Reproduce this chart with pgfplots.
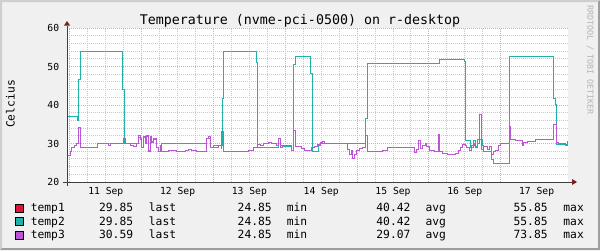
\documentclass[border=0pt]{standalone}
\usepackage{pgfplots}
\usepackage{pgfplotstable}
\pgfplotsset{compat=1.18}
\usepackage{fontspec}
\setmainfont{DejaVu Sans Mono}
\definecolor{bgc}{HTML}{F0F0F0}
\definecolor{shadea}{HTML}{CFCFCF}
\definecolor{shadeb}{HTML}{9E9E9E}
\definecolor{gridc}{HTML}{C8C8C8}
\definecolor{mgridc}{HTML}{F2A0A0}
\definecolor{axisc}{HTML}{404040}
\definecolor{arrowc}{HTML}{7F1F1F}
\definecolor{wmc}{HTML}{B4B4B4}
\definecolor{tempa}{HTML}{DC143C}
\definecolor{tempb}{HTML}{20B2AA}
\definecolor{tempc}{HTML}{BA55D3}

% x = days since 11 Sep 00:00, y = degrees Celsius
\pgfplotstableread{
x y
-0.0404 36.9
0.1031 35.9
0.1198 46.75
0.1476 53.85
0.7354 44.0
0.7535 30.0
0.9527 31.5
0.9764 31.0
1.0000 29.0
1.0223 31.5
1.0460 30.0
1.0697 31.8
1.0919 27.9
1.1156 31.5
1.1393 30.5
1.1616 31.0
1.2089 29.0
1.2312 27.9
1.2689 30.0
1.9054 31.3
1.9513 29.0
1.9973 29.4
2.1226 41.6
2.1365 53.85
2.5962 51.1
2.6100 29.0
2.8984 31.3
2.9360 29.5
2.9541 29.2
3.0836 28.3
3.1170 50.5
3.1449 52.7
3.3482 48.3
3.3760 27.9
3.4596 29.4
3.4875 30.0
4.1142 36.5
4.1379 50.9
5.1448 51.85
5.4930 51.3
5.5097 30.9
5.5822 29.0
5.6184 30.9
5.6421 29.2
5.6699 31.1
5.7396 29.4
5.7632 27.9
5.8649 25.9
5.8928 24.85
6.1253 52.7
6.7382 41.8
6.7604 40.1
6.7702 36.2
6.7799 29.85
6.9373 29.85
}\tabtwo

\pgfplotstableread{
x y
-0.0404 27.0
0.0111 27.9
0.0251 29.0
0.0571 29.6
0.0850 30.0
0.1170 34.2
0.1504 29.0
0.3816 30.0
0.5348 29.6
0.5683 30.0
0.7438 31.3
0.7674 29.9
0.8371 29.6
0.8830 29.2
0.9304 30.0
0.9527 32.0
0.9764 31.3
1.0000 29.0
1.0223 31.7
1.0460 30.2
1.0697 32.0
1.0919 28.3
1.1156 31.7
1.1393 30.2
1.1616 31.3
1.2089 29.0
1.2312 27.9
1.2549 29.6
1.2689 27.9
1.3705 28.3
1.4875 27.9
1.6031 28.2
1.6491 28.4
1.6964 28.2
1.7661 27.9
1.9054 31.3
1.9276 31.8
1.9513 29.0
2.0669 29.4
2.1045 28.7
2.1142 33.2
2.1365 27.9
2.4805 28.3
2.5502 29.0
2.6100 29.8
2.6476 29.6
2.6894 30.0
2.7591 30.2
2.8009 30.0
2.8747 29.4
2.9081 31.3
2.9360 29.0
2.9541 29.6
2.9819 29.4
3.0376 29.6
3.0836 28.3
3.1170 33.3
3.1449 29.2
3.2228 28.7
3.2702 28.2
3.3398 28.3
3.3579 29.0
3.4039 29.2
3.4513 29.8
3.4875 30.2
3.5209 30.5
3.5432 30.0
3.8691 28.5
3.8914 27.2
3.9150 28.1
3.9387 26.1
3.9610 27.2
3.9847 28.3
4.0306 28.7
4.0780 29.0
4.1142 32.2
4.1379 27.9
4.3566 28.2
4.4262 29.0
4.7925 27.6
4.8301 28.4
4.8482 30.9
4.8760 28.7
4.9081 29.6
4.9457 30.0
4.9694 29.2
5.0014 28.1
5.0710 27.9
5.1309 32.4
5.1504 27.9
5.1866 27.5
5.2563 27.1
5.3733 27.5
5.4053 28.1
5.4331 29.0
5.4652 29.8
5.5028 29.6
5.5265 29.0
5.5585 28.2
5.5905 29.4
5.6281 30.0
5.6518 29.0
5.6741 30.0
5.6978 37.6
5.7256 28.5
5.7632 29.2
5.8092 28.5
5.8412 29.2
5.8649 27.2
5.8928 27.9
5.9248 28.3
5.9666 29.4
5.9944 30.0
6.1198 34.4
6.1393 31.0
6.2033 30.7
6.2270 30.9
6.2967 29.6
6.3204 30.3
6.3663 30.6
6.4819 31.1
6.7382 35.0
6.7702 30.3
6.8078 29.9
6.8955 29.4
6.9234 30.6
6.9373 30.6
}\tabthree

\begin{document}
\begin{tikzpicture}[x=1pt,y=1pt]
\useasboundingbox (0,0) rectangle (600,250);
\fill[bgc] (0,0) rectangle (600,250);
\fill[shadea] (0,0) -- (2,2) -- (2,248) -- (598,248) -- (600,250) -- (0,250) -- cycle;
\fill[shadeb] (0,0) -- (600,0) -- (600,250) -- (598,248) -- (598,2) -- (2,2) -- cycle;

\begin{axis}[
  at={(67pt,68pt)}, anchor=south west,
  width=501pt, height=154pt, scale only axis,
  xmin=-0.0404, xmax=6.9373, ymin=20, ymax=60,
  axis line style={draw=none},
  axis background/.style={fill=white},
  xtick={0,1,2,3,4,5,6}, xticklabels={},
  minor x tick num=3,
  extra x ticks={0.5,1.5,2.5,3.5,4.5,5.5,6.5},
  extra x tick labels={11 Sep,12 Sep,13 Sep,14 Sep,15 Sep,16 Sep,17 Sep},
  extra x tick style={grid=none},
  ytick={20,30,40,50,60}, minor y tick num=4,
  grid=both,
  major grid style={mgridc, line width=1pt, dash pattern=on 1pt off 1pt},
  minor grid style={gridc, line width=1pt, dash pattern=on 1pt off 1pt},
  major tick length=0pt, minor tick length=0pt,
  ticklabel style={font=\fontsize{9.7}{11}\selectfont, text=black},
  /pgf/number format/assume math mode=true,
  yticklabel style={anchor=east, inner sep=0pt, xshift=-7.7pt},
  xticklabel style={anchor=base, inner sep=0pt, yshift=-12.3pt},
  every axis plot/.append style={line width=1pt, line join=miter},
]
\addplot[const plot, tempa] table[x=x,y=y] {\tabtwo};
\addplot[const plot, tempb] table[x=x,y=y] {\tabtwo};
\addplot[const plot, tempc] table[x=x,y=y] {\tabthree};
\end{axis}

% axes with rrdtool-style arrows
\draw[axisc, line width=1pt] (63,68) -- (572,68);
\fill[arrowc] (572,71) -- (577,68) -- (572,65) -- cycle;
\draw[axisc, line width=1pt] (67,64) -- (67,224.5);
\fill[arrowc] (64,224.5) -- (67,229) -- (70,224.5) -- cycle;

% title, unit, watermark
\node[anchor=base, inner sep=0pt, font=\fontsize{13.3}{15}\selectfont] at (300,226) {Temperature (nvme-pci-0500) on r-desktop};
\node[rotate=90, anchor=base, inner sep=0pt, font=\fontsize{11.3}{13}\selectfont] at (14.5,146) {Celcius};
\node[rotate=-90, inner sep=0pt, text=wmc, font=\fontsize{8.3}{10}\selectfont] at (590,190) {RRDTOOL / TOBI OETIKER};

% legend
\begin{scope}[every node/.style={anchor=base west, inner sep=0pt, font=\fontsize{11.3}{13}\selectfont}]
\filldraw[fill=tempa, draw=black, line width=0.8pt] (15.5,37.7) rectangle (23.5,45.7);
\node at (30.6,38.5) {temp1};
\node at (98.9,38.5) {29.85};
\node at (148.7,38.5) {last};
\node at (237.5,38.5) {24.85};
\node at (286.6,38.5) {min};
\node at (376.2,38.5) {40.42};
\node at (425.3,38.5) {avg};
\node at (513.4,38.5) {55.85};
\node at (563.2,38.5) {max};

\filldraw[fill=tempb, draw=black, line width=0.8pt] (15.5,24.2) rectangle (23.5,32.2);
\node at (30.6,25) {temp2};
\node at (98.9,25) {29.85};
\node at (148.7,25) {last};
\node at (237.5,25) {24.85};
\node at (286.6,25) {min};
\node at (376.2,25) {40.42};
\node at (425.3,25) {avg};
\node at (513.4,25) {55.85};
\node at (563.2,25) {max};

\filldraw[fill=tempc, draw=black, line width=0.8pt] (15.5,10.5) rectangle (23.5,18.5);
\node at (30.6,11.3) {temp3};
\node at (98.9,11.3) {30.59};
\node at (148.7,11.3) {last};
\node at (237.5,11.3) {24.85};
\node at (286.6,11.3) {min};
\node at (376.2,11.3) {29.07};
\node at (425.3,11.3) {avg};
\node at (513.4,11.3) {73.85};
\node at (563.2,11.3) {max};
\end{scope}
\end{tikzpicture}
\end{document}
